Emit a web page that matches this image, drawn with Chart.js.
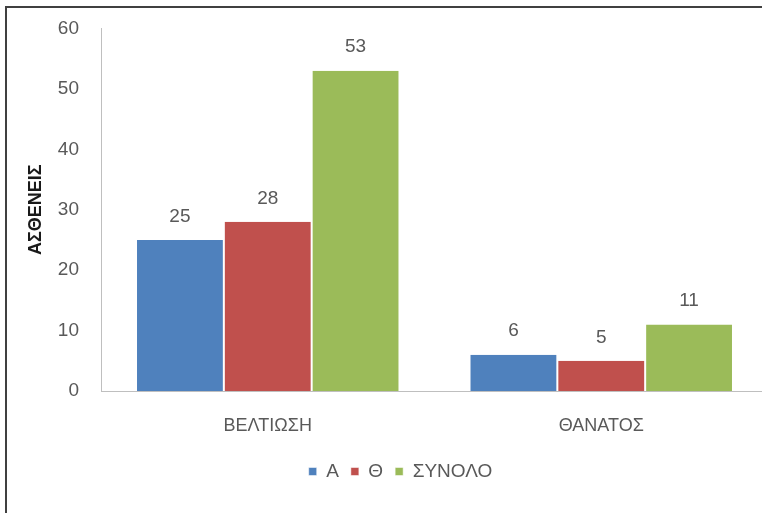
<!DOCTYPE html>
<html>
<head>
<meta charset="utf-8">
<script src="https://cdn.jsdelivr.net/npm/chart.js@4"></script>
<style>
  html, body { margin: 0; padding: 0; background: #fff; overflow: hidden; }
  .frame {
    position: absolute;
    left: 5px;
    top: 6px;
    width: 790px;
    height: 520px;
    border-left: 2px solid #404040;
    border-top: 2px solid #404040;
  }
  canvas { display: block; }
</style>
</head>
<body>
<div class="frame">
  <canvas id="chart" width="775" height="505"></canvas>
</div>
<script>
const categories = ['ΒΕΛΤΙΩΣΗ', 'ΘΑΝΑΤΟΣ']
const seriesA = [25, 6]
const seriesTheta = [28, 5]
const seriesTotal = [53, 11]
const yTicks = [0, 10, 20, 30, 40, 50, 60]

const FONT = "'Liberation Sans', Arial, sans-serif"
const TEXT = '#595959'

// value above each bar
const barValues = {
  id: 'barValues',
  afterDatasetsDraw(chart) {
    const { ctx } = chart
    ctx.save()
    ctx.font = `19px ${FONT}`
    ctx.fillStyle = TEXT
    ctx.textAlign = 'center'
    ctx.textBaseline = 'bottom'
    chart.data.datasets.forEach((ds, i) => {
      chart.getDatasetMeta(i).data.forEach((bar, j) => {
        ctx.fillText(String(ds.data[j]), bar.x, bar.y - 14)
      })
    })
    ctx.restore()
  },
}

// legend sits a little right of the canvas centre
const legendShift = {
  id: 'legendShift',
  afterLayout(chart) {
    chart.legend.left += 13
    chart.legend.right += 13
  },
}

new Chart(document.getElementById('chart'), {
  type: 'bar',
  data: {
    labels: categories,
    datasets: [
      { label: 'Α', data: seriesA, backgroundColor: '#4F81BD' },
      { label: 'Θ', data: seriesTheta, backgroundColor: '#C0504D' },
      { label: 'ΣΥΝΟΛΟ', data: seriesTotal, backgroundColor: '#9BBB59' },
    ],
  },
  options: {
    responsive: false,
    animation: false,
    layout: { padding: { top: 0, right: 14, left: 0, bottom: 22 } },
    datasets: {
      bar: {
        categoryPercentage: 0.79,
        barPercentage: 1,
        borderColor: '#ffffff',
        borderWidth: { left: 1, right: 1 },
      },
    },
    scales: {
      x: {
        afterFit: scale => {
          scale.height = 59
        },
        grid: { display: false },
        border: { display: true, color: '#BFBFBF', width: 1 },
        ticks: { color: TEXT, font: { family: FONT, size: 18 }, padding: 16 },
      },
      y: {
        min: 0,
        max: 60,
        afterBuildTicks: scale => {
          scale.ticks = yTicks.map(v => ({ value: v }))
        },
        afterFit: scale => {
          scale.width = 94
        },
        // tick marks are hidden with the grid, their length only spaces the labels
        grid: { display: false, drawTicks: true, tickLength: 13 },
        border: { display: true, color: '#BFBFBF', width: 1 },
        ticks: { color: TEXT, font: { family: FONT, size: 19 }, padding: 9 },
        title: {
          display: true,
          text: 'ΑΣΘΕΝΕΙΣ',
          color: '#1a1a1a',
          font: { family: FONT, size: 18, weight: 'bold' },
          padding: { top: 18, bottom: 0 },
        },
      },
    },
    plugins: {
      legend: {
        position: 'bottom',
        labels: {
          boxWidth: 8,
          boxHeight: 8,
          color: TEXT,
          font: { family: FONT, size: 19 },
          padding: 12,
        },
      },
      tooltip: { enabled: false },
    },
  },
  plugins: [barValues, legendShift],
})
</script>
</body>
</html>
